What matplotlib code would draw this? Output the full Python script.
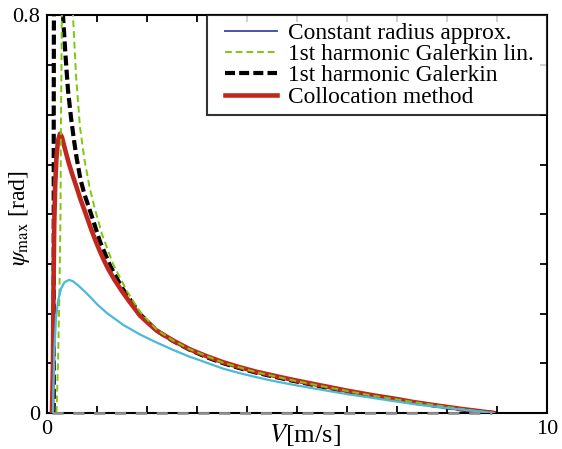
import matplotlib
matplotlib.use("Agg")
import matplotlib.pyplot as plt
from matplotlib.lines import Line2D
from matplotlib.legend_handler import HandlerLine2D
import numpy as np

plt.rcParams['font.family'] = ['Liberation Serif', 'DejaVu Serif']
plt.rcParams['mathtext.fontset'] = 'stix'

# ---- data (V in m/s, psi_max in rad) ----
coll_V   = [0.10, 0.12, 0.13, 0.145, 0.165, 0.19, 0.22, 0.26, 0.30, 0.35, 0.43, 0.50, 0.59, 0.67, 0.75, 0.82, 0.89,
            0.97, 1.06, 1.15, 1.23, 1.35, 1.50, 1.65, 1.86, 2.00, 2.19, 2.52, 2.86, 3.20, 3.53, 3.86, 4.19, 4.50,
            4.86, 5.20, 5.60, 6.00, 6.50, 7.00, 7.33, 7.80, 8.30, 8.93]
coll_psi = [0.0,  0.10, 0.25, 0.38, 0.46, 0.515, 0.548, 0.562, 0.555, 0.535, 0.505, 0.482, 0.455, 0.43, 0.408, 0.388, 0.368,
            0.347, 0.325, 0.305, 0.289, 0.268, 0.245, 0.224, 0.196, 0.183, 0.166, 0.146, 0.128, 0.114, 0.102, 0.092, 0.083, 0.076,
            0.068, 0.061, 0.053, 0.045, 0.036, 0.028, 0.022, 0.015, 0.008, 0.0]

cr_V   = [0.12, 0.13, 0.15, 0.18, 0.22, 0.28, 0.35, 0.44, 0.52, 0.62, 0.75, 0.86, 1.00, 1.20, 1.53, 1.86, 2.19, 2.52,
          2.86, 3.06, 3.53, 3.86, 4.19, 4.50, 4.86, 5.30, 6.00, 6.60, 7.33, 8.00, 8.93]
cr_psi = [0.0,  0.06, 0.13, 0.19, 0.225, 0.25, 0.263, 0.268, 0.265, 0.257, 0.245, 0.234, 0.219, 0.201, 0.177, 0.158, 0.142, 0.127,
          0.113, 0.106, 0.089, 0.080, 0.072, 0.065, 0.058, 0.050, 0.038, 0.029, 0.018, 0.010, 0.0]

gal_V   = [0.135, 0.135, 0.14, 0.18, 0.25, 0.30, 0.32, 0.37, 0.42, 0.48, 0.54, 0.59, 0.67, 0.75, 0.89, 1.06, 1.26, 1.50,
           1.86, 2.19, 2.52, 2.86, 3.20, 3.53, 3.86, 4.19, 4.86, 5.60, 6.50, 7.33, 8.30, 8.93]
gal_psi = [0.0,  0.60, 0.90, 1.00, 1.00, 0.90, 0.80, 0.72, 0.65, 0.595, 0.549, 0.515, 0.47, 0.44, 0.398, 0.345, 0.297, 0.252,
           0.199, 0.166, 0.145, 0.127, 0.112, 0.100, 0.090, 0.081, 0.066, 0.051, 0.034, 0.021, 0.007, 0.0]

lin_V   = [0.19, 0.22, 0.25, 0.27, 0.28, 0.29, 0.30, 0.31, 0.45, 0.52, 0.58, 0.66, 0.75, 0.85, 0.96, 1.10, 1.32, 1.60,
           1.86, 2.19, 2.52, 2.86, 3.53, 4.19, 4.86, 5.60, 6.50, 7.33, 8.30, 8.93]
lin_psi = [0.0,  0.10, 0.25, 0.40, 0.60, 0.70, 0.85, 1.00, 1.00, 0.80, 0.68, 0.575, 0.51, 0.455, 0.41, 0.36, 0.300, 0.245,
           0.204, 0.168, 0.146, 0.128, 0.101, 0.082, 0.067, 0.052, 0.035, 0.022, 0.008, 0.0]

zero_V   = [0.10, 8.90]
zero_psi = [0.0, 0.0]

labels = ["Constant radius approx. ", "1st harmonic Galerkin lin. ",
          "1st harmonic Galerkin ", "Collocation method "]

c_red = '#c0281e'
c_cyan = '#4cb8dc'
c_green = '#7ec80c'
c_blue = '#4a55a8'

fig = plt.figure(figsize=(5.62, 4.49), dpi=100)
ax = fig.add_axes([0.0836, 0.0802, 0.8897, 0.8853])

ax.plot(gal_V, gal_psi, color='black', lw=3.0, dashes=(2.4, 1.0), zorder=2)
ax.plot(coll_V, coll_psi, color=c_red, lw=3.3, zorder=3)
ax.plot(lin_V, lin_psi, color=c_green, lw=1.4, dashes=(3.5, 2.0), zorder=4)
ax.plot(cr_V, cr_psi, color=c_cyan, lw=1.6, zorder=5)
ax.plot(zero_V, zero_psi, color='#929292', lw=2.0, dashes=(4, 3.5), zorder=6, clip_on=False)

ax.set_xlim(0, 10)
ax.set_ylim(0, 0.8)
ax.set_xticks(np.arange(0, 11, 1))
ax.set_xticklabels(['0'] + [''] * 9 + ['10'])
ax.set_yticks(np.round(np.arange(0, 0.81, 0.1), 1))
ax.set_yticklabels(['0'] + [''] * 7 + ['0.8'])
ax.tick_params(direction='in', length=5, width=1.3, top=True, right=True,
               labelsize=16, pad=5)
for s in ax.spines.values():
    s.set_linewidth(1.5)

ax.set_xlabel(r'$V$[m/s]', fontsize=19)
ax.set_ylabel(r'$\psi_{\rm max}$ [rad]', fontsize=17)
ax.xaxis.set_label_coords(0.516, -0.055)
ax.yaxis.set_label_coords(-0.054, 0.49)
ax.xaxis.label.set_verticalalignment('center')
ax.yaxis.label.set_verticalalignment('center')

handles = [Line2D([], [], color=c_blue, lw=1.4),
           Line2D([], [], color=c_green, lw=1.4, dashes=(3.5, 2.0)),
           Line2D([], [], color='black', lw=3.0, dashes=(2.4, 1.0)),
           Line2D([], [], color=c_red, lw=3.3)]
leg = ax.legend(handles, labels, loc='upper right', fontsize=16.8, frameon=True,
                fancybox=False, borderaxespad=0, handlelength=2.7,
                handletextpad=0.47, labelspacing=0.0, borderpad=0.3,
                handler_map={Line2D: HandlerLine2D(xpad=0.47)})
leg.get_frame().set_edgecolor('black')
leg.get_frame().set_linewidth(1.5)

fig.savefig('out.png', dpi=100)
